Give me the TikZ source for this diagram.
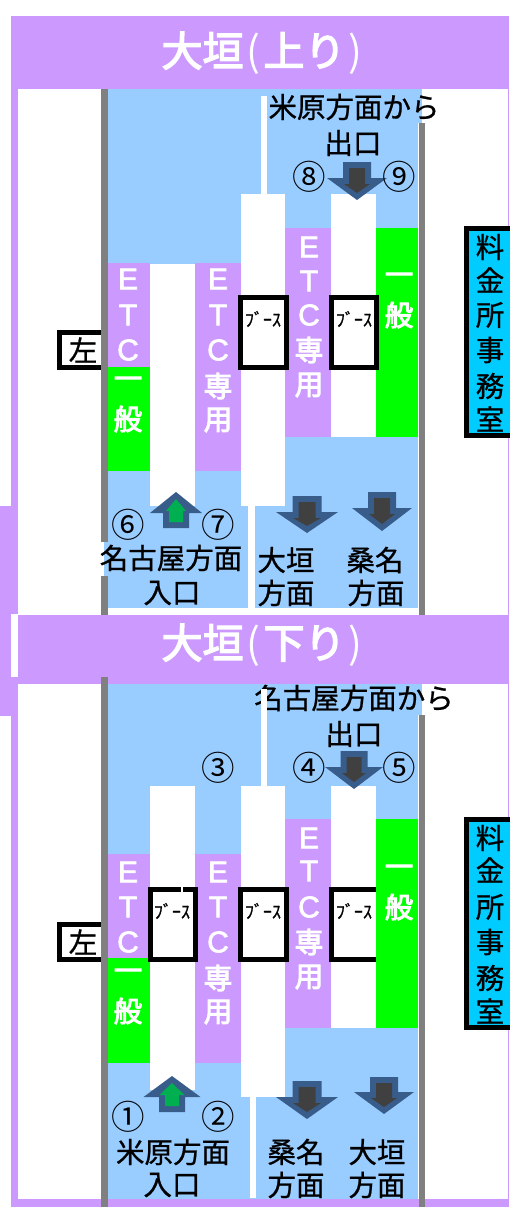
\documentclass[tikz,border=0pt]{standalone}
\usepackage{fontspec}
\setmainfont[FakeBold=0.8]{Noto Sans CJK JP}
\newfontfamily\latfont[FakeBold=2]{Liberation Sans}
\newfontfamily\medfont[FakeBold=3.5]{Noto Sans CJK JP}
\newfontfamily\parenfont{Noto Sans CJK JP}
\newfontfamily\thinfont{Noto Sans CJK JP}
\definecolor{lav}{HTML}{CC99FF}
\definecolor{sky}{HTML}{99CCFF}
\definecolor{grn}{HTML}{00FF00}
\definecolor{cyn}{HTML}{00CCFF}
\definecolor{arrowedge}{HTML}{385D8A}
\definecolor{arrowdark}{HTML}{404040}
\definecolor{arrowgreen}{HTML}{00B050}
\tikzset{
  txt/.style={inner sep=0pt,outer sep=0pt,font=\fontsize{28.5}{28.5}\selectfont,text=black},
  title/.style={inner sep=0pt,font=\medfont\fontsize{41}{41}\selectfont,text=white},
  lanekanji/.style={inner sep=0pt,font=\medfont\fontsize{28.5}{28.5}\selectfont,text=white},
  lanelatin/.style={inner sep=0pt,font=\latfont\fontsize{30}{30}\selectfont,text=white},
  circled/.style={inner sep=0pt,font=\thinfont\fontsize{33.5}{33.5}\selectfont,text=black},
  boothtxt/.style={inner sep=0pt,font=\fontsize{18}{18}\selectfont,text=black},
  boothbox/.style={draw=black,line width=5pt,fill=white},
  officebox/.style={draw=black,line width=5pt,fill=cyn},
  sidebox/.style={draw=black,line width=5pt,fill=white},
}
% cx, top, shaft half, wing y, wing half, tip
\newcommand{\downarrowshape}[6]{%
  \fill[arrowedge] ({#1-#3},#2) -- ({#1+#3},#2) -- ({#1+#3},#4) -- ({#1+#5},#4) -- (#1,#6) -- ({#1-#5},#4) -- ({#1-#3},#4) -- cycle;
  \fill[arrowdark] ({#1-#3+6},{#2+6}) -- ({#1+#3-6},{#2+6}) -- ({#1+#3-6},{#4+6}) -- ({#1+#5-17},{#4+6}) -- (#1,{#6-7}) -- ({#1-#5+17},{#4+6}) -- ({#1-#3+6},{#4+6}) -- cycle;
}
% cx, bottom, shaft half, wing y, wing half, tip
\newcommand{\uparrowshape}[6]{%
  \fill[arrowedge] ({#1-#3},#2) -- ({#1+#3},#2) -- ({#1+#3},#4) -- ({#1+#5},#4) -- (#1,#6) -- ({#1-#5},#4) -- ({#1-#3},#4) -- cycle;
  \fill[arrowgreen] ({#1-#3+6},{#2-6}) -- ({#1+#3-6},{#2-6}) -- ({#1+#3-6},{#4-2}) -- ({#1+#5-16},{#4-2}) -- (#1,{#6+7}) -- ({#1-#5+16},{#4-2}) -- ({#1-#3+6},{#4-2}) -- cycle;
}
\newcommand{\titletext}[1]{\makebox[41pt]{大}\makebox[41pt]{垣}\hspace{3pt}{\parenfont (}\hspace{3pt}#1\hspace{3pt}{\parenfont )}}
\begin{document}
\begin{tikzpicture}[x=1pt,y=-1pt]
\useasboundingbox (0,0) rectangle (509,1207);
\fill[white] (0,0) rectangle (509,1207);
% purple frame
\fill[lav] (11,16) rectangle (509,89);
\fill[lav] (11,16) rectangle (18,506);
\fill[lav] (0,506) rectangle (18,716);
\fill[white] (11,614) rectangle (18,677);
\fill[lav] (11,716) rectangle (18,1207);
\fill[lav] (11,1199) rectangle (509,1207);
\fill[lav] (508,89) rectangle (509,615);
\fill[lav] (508,684) rectangle (509,1207);
\fill[lav] (18,615) rectangle (509,684);
% section 1 road
\fill[sky] (108,89) rectangle (418,608);
\fill[sky] (418,89) rectangle (422,123);
\draw[sidebox] (59.5,332) rectangle (105,367);
\fill[gray] (101,89) rectangle (108,615);
\fill[gray] (418.5,123) rectangle (425,615);
\fill[white] (101,542) rectangle (104,576);
\fill[sky] (104,542) rectangle (108,576);
\fill[lav] (108,263) rectangle (150,367);
\fill[grn] (108,367) rectangle (150,471);
\fill[white] (150,264) rectangle (195,506);
\fill[lav] (195,263) rectangle (241,471);
\fill[white] (241,194) rectangle (285,506);
\fill[white] (261,96) rectangle (267,194);
\fill[lav] (285,228) rectangle (331,437);
\fill[white] (331,194) rectangle (376,437);
\fill[grn] (376,228) rectangle (418,437);
\fill[white] (248,506) rectangle (255,608);
% section 2 road
\fill[sky] (108,684) rectangle (418,1199);
\fill[sky] (418,684) rectangle (422,715);
\draw[sidebox] (59.5,924) rectangle (105,959);
\fill[gray] (101,677) rectangle (108,1207);
\fill[gray] (418.5,715) rectangle (425,1207);
\fill[lav] (108,854) rectangle (150,958);
\fill[grn] (108,958) rectangle (150,1063);
\fill[white] (150,786) rectangle (195,1090);
\fill[lav] (195,854) rectangle (241,1063);
\fill[white] (241,786) rectangle (285,1097);
\fill[lav] (285,819) rectangle (331,1028);
\fill[white] (331,786) rectangle (376,1028);
\fill[white] (250,1097) rectangle (256,1198);
% booths and boxes
\draw[boothbox] (240,297) rectangle (286,367);
\draw[boothbox] (331,297) rectangle (376,367);
\draw[boothbox] (150,889) rectangle (195,959);
\fill[white] (181,886) rectangle (183,892);
\draw[boothbox] (240,889) rectangle (286,959);
\draw[boothbox] (331,889) rectangle (378,959);
\fill[grn] (376,819) rectangle (418,1028);
\draw[officebox] (466,228.5) rectangle (515,435.5);
\draw[officebox] (466,819.5) rectangle (515,1027.5);
% arrows
\downarrowshape{357}{162}{14}{178}{30}{200}
\uparrowshape{176}{528}{13}{513}{26}{492}
\downarrowshape{307}{496}{14.5}{512}{31}{533}
\downarrowshape{382}{492}{14}{508}{30}{531}
\downarrowshape{354}{751}{13.5}{767}{29}{789}
\uparrowshape{172}{1112}{13}{1097}{28.5}{1076}
\downarrowshape{307}{1081}{14.5}{1097}{31}{1119}
\downarrowshape{384}{1077}{14}{1092}{30}{1114}
% titles
\node[title] (titleup) at (262,53) {\titletext{上り}};
\node[title] (titledown) at (262,645) {\titletext{下り}};
% latin letters in lanes
\foreach \n/\x/\y/\t in {
 a1/128/279/E,a2/128/315/T,a3/128/350/C,
 b1/218/279/E,b2/218/315/T,b3/218/350/C,
 c1/309/247/E,c2/309/281/T,c3/309/315/C,
 d1/128/872/E,d2/128/907/T,d3/128/942/C,
 e1/218/872/E,e2/218/907/T,e3/218/942/C,
 f1/309/838/E,f2/309/871/T,f3/309/907/C}
 \node[lanelatin] (l\n) at (\x,\y) {\t};
% kanji in lanes
\foreach \n/\x/\y/\t in {
 a/128/383/一,b/128/419/般,c/218/386/専,d/218/420/用,
 e/309/350/専,f/309/385/用,g/399/279/一,h/399/315/般,
 i/128/975/一,j/128/1011/般,k/218/978/専,l/218/1012/用,
 m/309/942/専,n/309/977/用,o/399/871/一,p/399/907/般}
 \node[lanekanji] (k\n) at (\x,\y) {\t};
% office
\foreach \n/\y/\t in {a/247/料,b/280/金,c/315/所,d/350/事,e/386/務,f/419/室,
 g/838/料,h/870/金,i/907/所,j/942/事,k/978/務,l/1011/室}
 \node[txt] (o\n) at (490,\y) {\t};
% booth labels
\foreach \n/\x/\y in {a/263/319,b/354/319,c/172/911,d/263/911,e/354/911}
 \node[boothtxt] (b\n) at (\x,\y) {ﾌﾞｰｽ};
% circled numbers
\foreach \n/\x/\y/\t in {six/128/525/⑥,seven/218/525/⑦,eight/309/177/⑧,nine/399/177/⑨,
 one/128/1117/①,two/218/1117/②,three/218/768/③,four/309/768/④,five/399/768/⑤}
 \node[circled] (n\n) at (\x,\y) {\t};
% labels
\node[txt] (left1) at (83,350) {左};
\node[txt] (left2) at (83,942) {左};
\node[txt] (from1) at (354,107) {米原方面から};
\node[txt] (exit1) at (353,143) {出口};
\node[txt] (from2) at (354,698) {名古屋方面から};
\node[txt] (exit2) at (354,734) {出口};
\node[txt] (in1) at (171,558) {名古屋方面};
\node[txt] (in1b) at (172,593) {入口};
\node[txt] (ogaki1) at (286,560) {大垣};
\node[txt] (ogaki1b) at (286,593) {方面};
\node[txt] (kuwana1) at (375,560) {桑名};
\node[txt] (kuwana1b) at (376,593) {方面};
\node[txt] (in2) at (173,1152) {米原方面};
\node[txt] (in2b) at (172,1185) {入口};
\node[txt] (kuwana2) at (296,1152) {桑名};
\node[txt] (kuwana2b) at (296,1185) {方面};
\node[txt] (ogaki2) at (377,1152) {大垣};
\node[txt] (ogaki2b) at (377,1185) {方面};
\fill[white] (261,689) rectangle (267,786);
\end{tikzpicture}
\end{document}
